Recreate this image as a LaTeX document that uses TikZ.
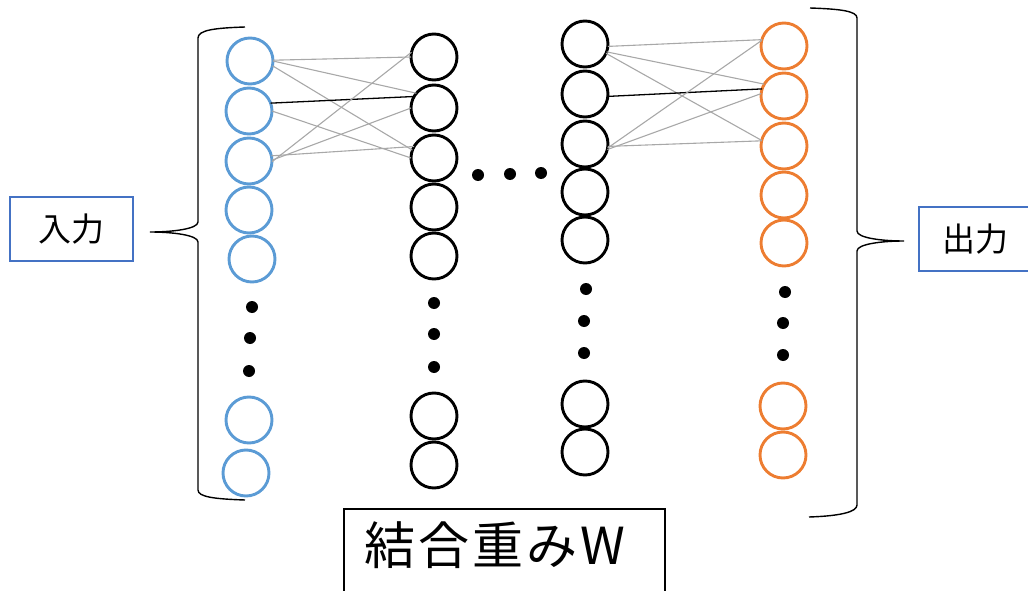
\documentclass[tikz,border=0pt]{standalone}
\usepackage{fontspec}
\newfontfamily\jp{Noto Sans CJK JP}
\newfontfamily\jpw[LetterSpace=6]{Noto Sans CJK JP}
\definecolor{nblue}{HTML}{5B9BD5}
\definecolor{norange}{HTML}{ED7D31}
\definecolor{bblue}{HTML}{4472C4}
\definecolor{lgray}{HTML}{A8A8A8}
\begin{document}
\begin{tikzpicture}[x=1pt,y=-1pt,
  neuron/.style={circle,draw,line width=2.9pt,minimum size=46pt,inner sep=0pt,outer sep=0pt},
  inn/.style={neuron,draw=nblue},
  hid/.style={neuron,draw=black},
  outn/.style={neuron,draw=norange},
  dotm/.style={fill=black},
  wgray/.style={draw=lgray,line width=1.1pt},
  wblack/.style={draw=black,line width=1.3pt},
  brace/.style={draw=black,line width=1.4pt},
  lbl/.style={font=\jp\fontsize{33}{38}\selectfont,inner sep=0pt},
  lblbox/.style={draw=bblue,line width=2pt}]
\useasboundingbox (0,0) rectangle (1028,591);
\clip (0,0) rectangle (1028,591);
% columns
\foreach \n/\x/\y in {1/250/61,2/249/111,3/249/161,4/249/210,5/252/259,6/249/420,7/246/473}
  \node[inn] (a\n) at (\x,\y) {};
\foreach \n/\y in {1/57,2/108,3/158,4/207,5/256,6/416,7/465}
  \node[hid] (b\n) at (434,\y) {};
\foreach \n/\y in {1/44,2/94,3/144,4/192,5/240,6/404,7/452}
  \node[hid] (c\n) at (585,\y) {};
\foreach \n/\x/\y in {1/784/46,2/784/96,3/784/146,4/784/195,5/784/243,6/783/406,7/783/455}
  \node[outn] (d\n) at (\x,\y) {};
% dots
\foreach \x/\y in {252/307,250/338,249/371,434/303,434/334,434/367,586/289,584/321,584/353,785/292,783/323,783/355,478/175,510/174,541/173}
  \fill[dotm] (\x,\y) circle (6);
% weights col1 -> col2
\draw[wgray] (a1.2) -- (b1.180);
\draw[wgray] (a1.0) -- (b2.140);
\draw[wgray] (a1.-12) -- (b3.160);
\draw[wblack] (a2.20) -- (b2.150);
\draw[wgray] (a2.0) -- (b3.180);
\draw[wgray] (a3.-2) -- (b1.168);
\draw[wgray] (a3.2) -- (b2.180);
\draw[wgray] (a3.13) -- (b3.150);
% weights col3 -> col4
\draw[wgray] (c1.-6) -- (d1.164);
\draw[wgray] (c1.-20) -- (d2.149);
\draw[wgray] (c1.-24) -- (d3.166);
\draw[wblack] (c2.-6) -- (d2.162);
\draw[wgray] (c3.-10) -- (d1.166);
\draw[wgray] (c3.-14) -- (d2.174);
\draw[wgray] (c3.-6) -- (d3.167);
% braces
\draw[brace] (245,27) .. controls (215,28) and (198,30) .. (198,38) -- (198,222)
  .. controls (198,229) and (172,232) .. (150,232)
  .. controls (172,232) and (198,235) .. (198,242) -- (198,490)
  .. controls (198,497) and (215,499) .. (245,500);
\draw[brace] (810,8) .. controls (840,9) and (857,11) .. (857,18) -- (857,231)
  .. controls (857,238) and (882,241) .. (904,241)
  .. controls (882,241) and (857,244) .. (857,251) -- (857,505)
  .. controls (857,512) and (840,516) .. (809,517);
% labels
\node[lbl,lblbox,minimum width=123pt,minimum height=64pt] (in) at (71.5,229) {入力};
\node[lbl,lblbox,minimum width=112pt,minimum height=64pt] (out) at (975,239) {出力};
\node[font=\jpw\fontsize{51}{58}\selectfont,inner sep=0pt,anchor=west] (w) at (364,545) {結合重みW};
\draw[black,line width=2pt] (344,640) -- (344,509) -- (665,509) -- (665,640);
\end{tikzpicture}
\end{document}
